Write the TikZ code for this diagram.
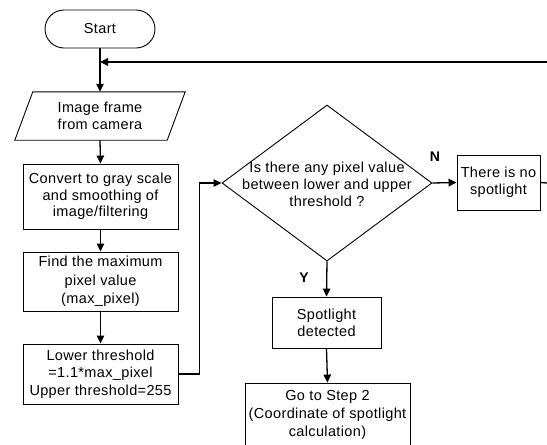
\documentclass[tikz,border=0pt]{standalone}
\usepackage{fontspec}
\setmainfont[LetterSpace=2.5]{Liberation Sans}
\usetikzlibrary{arrows.meta,shapes.misc,shapes.geometric}
\begin{document}
\begin{tikzpicture}[x=1pt,y=-1pt,
  base/.style={font=\fontsize{14.5}{17}\selectfont, align=center, inner sep=0pt},
  box/.style={base, draw, line width=0.9pt, rectangle},
  lbl/.style={font=\fontsize{14}{16}\bfseries\selectfont, inner sep=0pt},
  conn/.style={line width=1.3pt},
  arr/.style={conn, -{Triangle[length=8pt,width=7.5pt]}}
]
\useasboundingbox (0,0) rectangle (547,445);
\clip (0,0) rectangle (547,445);

% nodes
\node[base, draw, line width=0.9pt, rounded rectangle, minimum width=110pt, minimum height=38pt] (start) at (100,29) {Start};
\node[base, minimum width=170pt, minimum height=48pt] (img) at (100,116) {Image frame\\from camera};
\draw[line width=0.9pt] ([xshift=18pt]img.north west) -- (img.north east) -- ([xshift=-18pt]img.south east) -- (img.south west) -- cycle;
\node[box, minimum width=155pt, minimum height=65pt, font=\fontsize{14.5}{16.3}\selectfont] (conv) at (100.5,196.5) {Convert to gray scale\\and smoothing of\\image/filtering};
\node[box, minimum width=155pt, minimum height=59pt, font=\fontsize{14.5}{18.3}\selectfont] (find) at (100.5,281.5) {Find the maximum\\pixel value\\(max\_pixel)};
\node[box, minimum width=155pt, minimum height=60pt, font=\fontsize{14.5}{17.5}\selectfont] (low) at (100.5,374) {Lower threshold\\=1.1*max\_pixel\\Upper threshold=255};
\node[draw, line width=0.9pt, diamond, minimum width=210pt, minimum height=156pt, inner sep=0pt] (dia) at (327,183) {};
\node[base] (diatext) at (327,184) {Is there any pixel value\\between lower and upper\\threshold ?};
\node[box, minimum width=83pt, minimum height=55pt] (nospot) at (498.5,182.5) {There is no\\spotlight};
\node[box, minimum width=109pt, minimum height=51pt] (spot) at (326.5,322.5) {Spotlight\\detected};
\node[box, minimum width=165pt, minimum height=64pt, font=\fontsize{14.5}{18}\selectfont] (go) at (327.5,415) {Go to Step 2\\(Coordinate of spotlight\\calculation)};
\node[lbl] (nlbl) at (435,157) {N};
\node[lbl] (ylbl) at (304,278) {Y};

\coordinate (re1) at (547,62);
\coordinate (re2) at (547,183);

% connectors
\draw[arr] (start.south) -- (img.north);
\draw[arr] (re1) -- (re1 -| start.south);
\draw[arr] (img.south) -- (conv.north);
\draw[arr] (conv.south) -- (find.north);
\draw[arr] (find.south) -- (low.north);
\draw[arr] (low.east) -- ++(21,0) |- (dia.west);
\draw[arr] (dia.east) -- (nospot.west);
\draw[conn] (nospot.east) -- (re2);
\draw[arr] (dia.south) -- (spot.north);
\draw[arr] (spot.south) -- (go.north);
\end{tikzpicture}
\end{document}
